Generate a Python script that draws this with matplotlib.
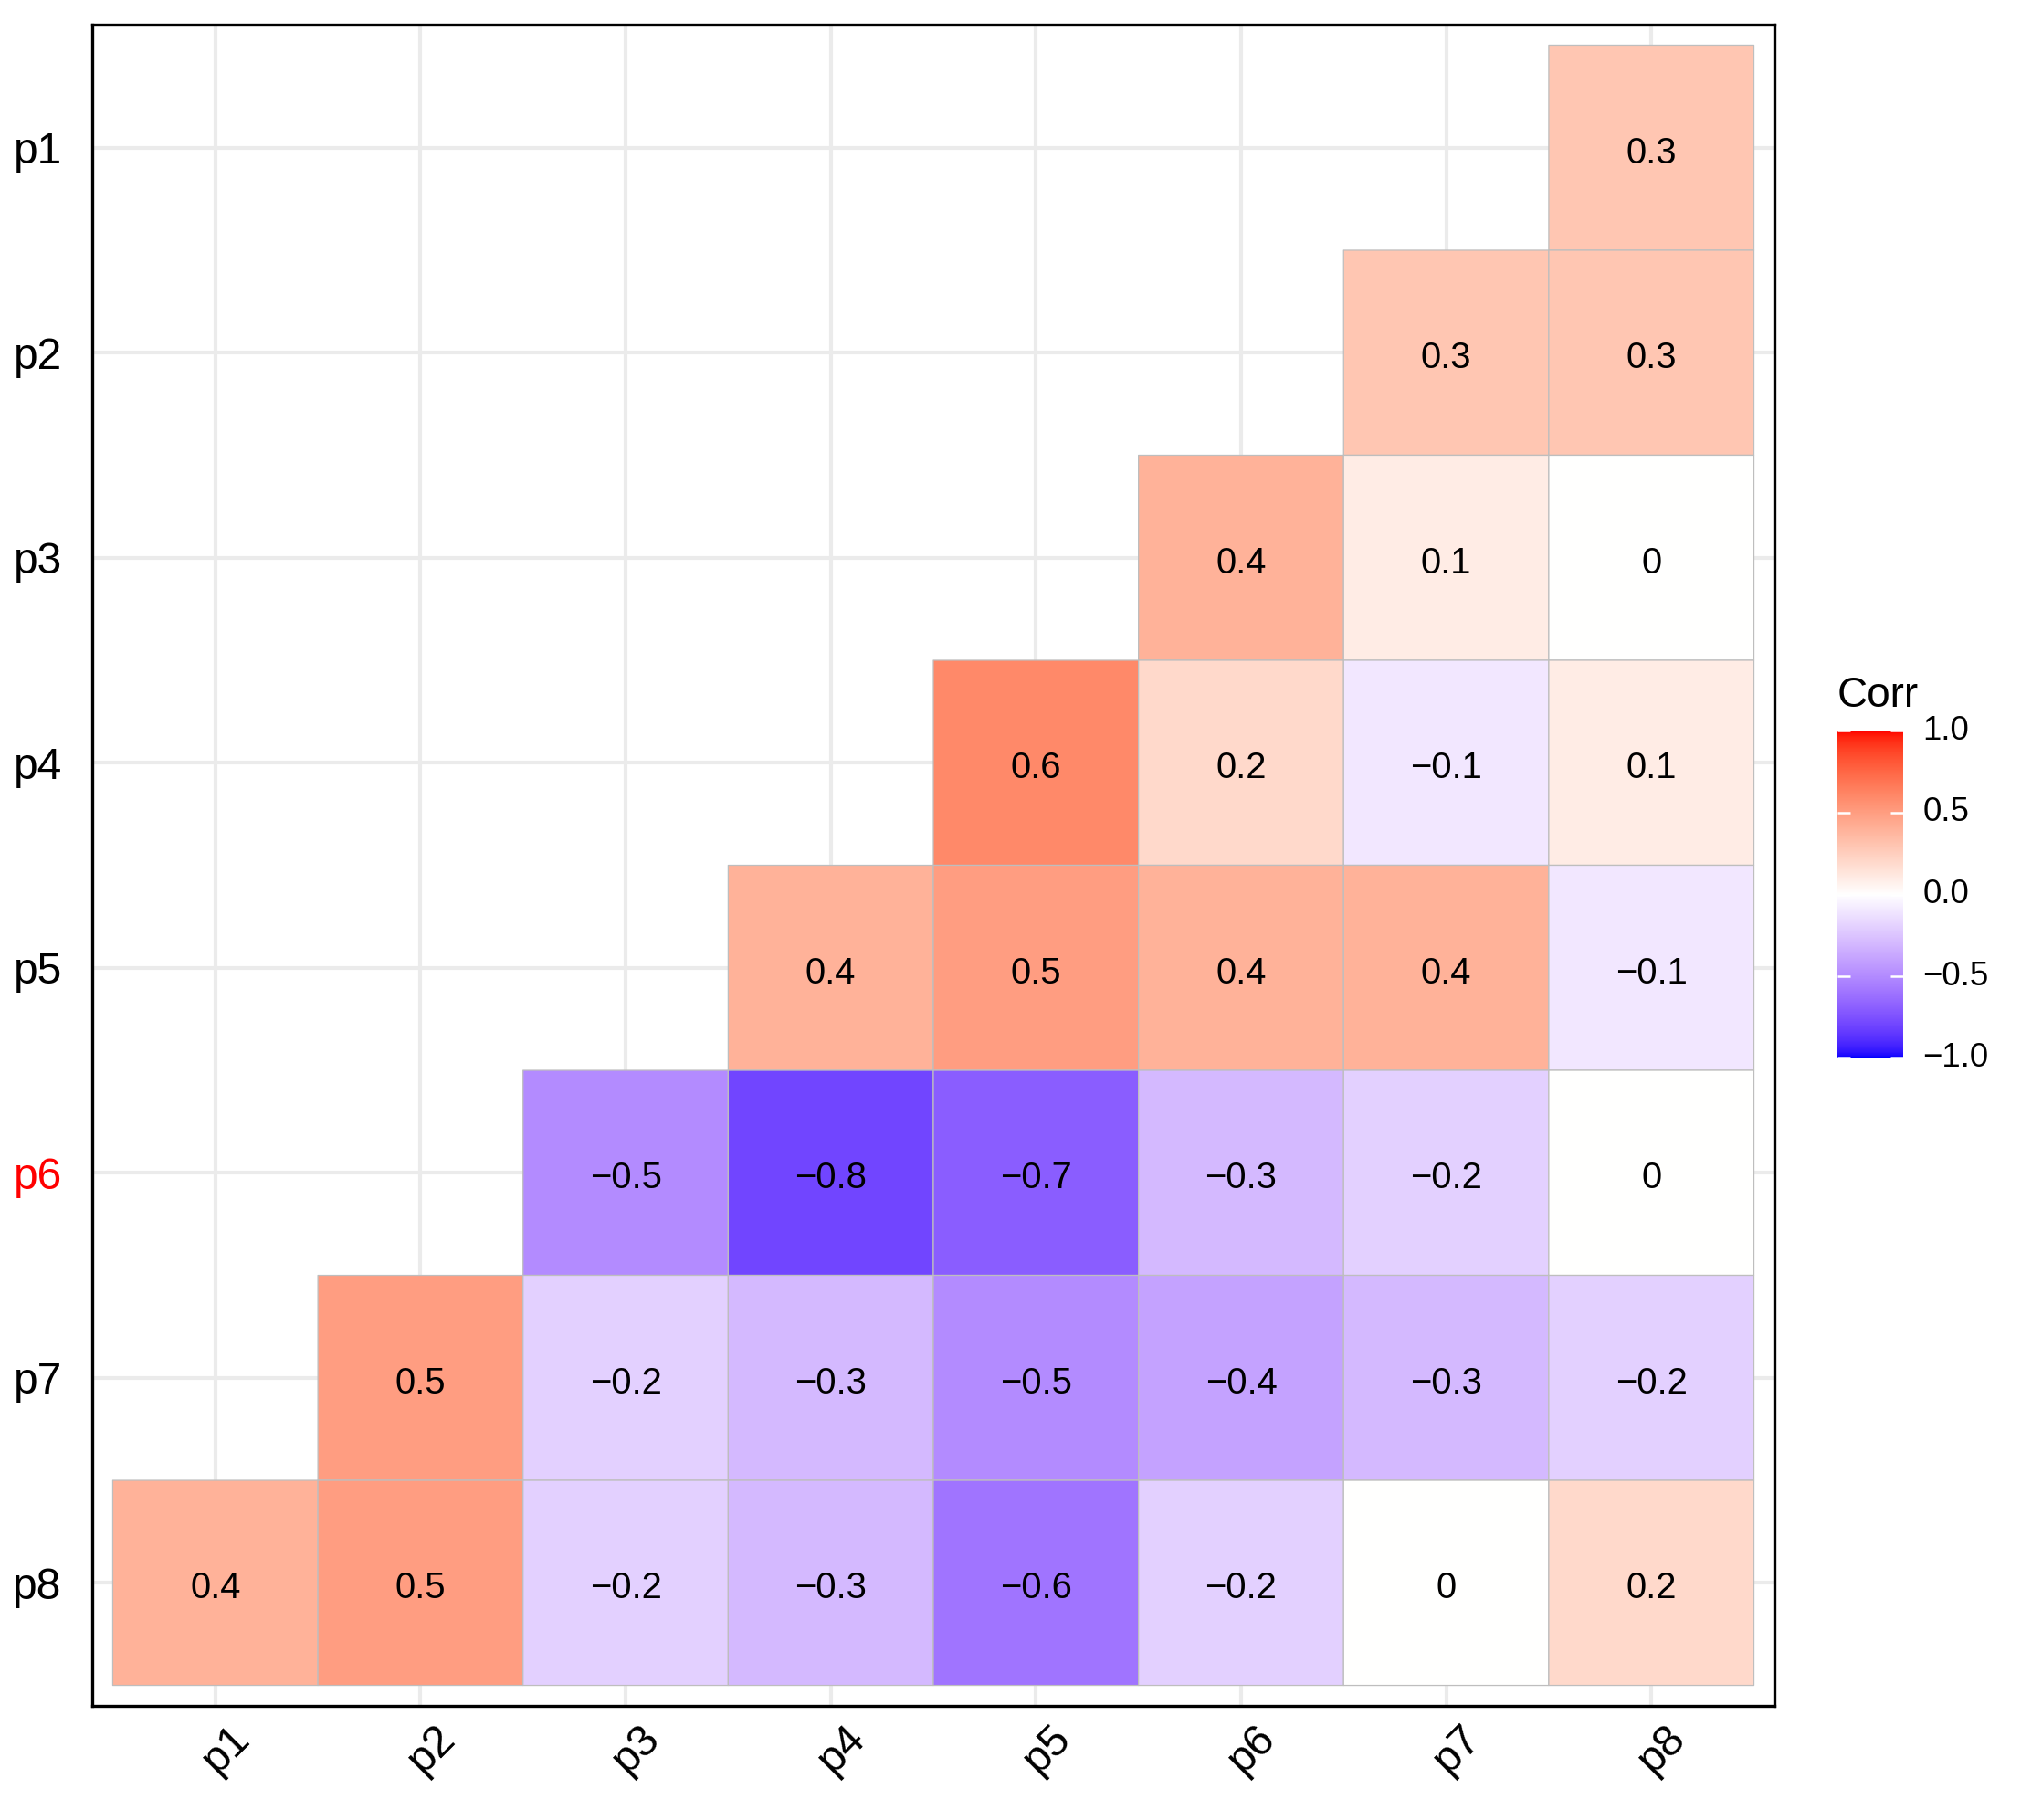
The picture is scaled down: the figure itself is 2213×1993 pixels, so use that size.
import numpy as np
import matplotlib
matplotlib.use("Agg")
import matplotlib.pyplot as plt
from matplotlib.colors import ListedColormap
from matplotlib.transforms import ScaledTranslation

plt.rcParams['font.family'] = ['Liberation Sans', 'DejaVu Sans']

# data: correlation matrix, rows p1..p8 (top to bottom), None = blank cell
labels = ['p1', 'p2', 'p3', 'p4', 'p5', 'p6', 'p7', 'p8']
row_p1 = [None, None, None, None, None, None, None, 0.3]
row_p2 = [None, None, None, None, None, None, 0.3, 0.3]
row_p3 = [None, None, None, None, None, 0.4, 0.1, 0.0]
row_p4 = [None, None, None, None, 0.6, 0.2, -0.1, 0.1]
row_p5 = [None, None, None, 0.4, 0.5, 0.4, 0.4, -0.1]
row_p6 = [None, None, -0.5, -0.8, -0.7, -0.3, -0.2, 0.0]
row_p7 = [None, 0.5, -0.2, -0.3, -0.5, -0.4, -0.3, -0.2]
row_p8 = [0.4, 0.5, -0.2, -0.3, -0.6, -0.2, 0.0, 0.2]
rows = [row_p1, row_p2, row_p3, row_p4, row_p5, row_p6, row_p7, row_p8]
legend_ticks = [-1.0, -0.5, 0.0, 0.5, 1.0]
red_label = 'p6'


# diverging blue-white-red gradient interpolated in CIELAB (like ggplot's gradient2)
def srgb_to_lab(rgb):
    c = np.asarray(rgb, dtype=float)
    c = np.where(c <= 0.04045, c / 12.92, ((c + 0.055) / 1.055) ** 2.4)
    m = np.array([[0.4124, 0.3576, 0.1805],
                  [0.2126, 0.7152, 0.0722],
                  [0.0193, 0.1192, 0.9505]])
    xyz = m @ c / np.array([0.95047, 1.0, 1.08883])
    f = np.where(xyz > 0.008856, np.cbrt(xyz), 7.787 * xyz + 16 / 116)
    return np.array([116 * f[1] - 16, 500 * (f[0] - f[1]), 200 * (f[1] - f[2])])


def lab_to_srgb(lab):
    L, a, b = lab
    fy = (L + 16) / 116
    fx = fy + a / 500
    fz = fy - b / 200
    f = np.array([fx, fy, fz])
    xyz = np.where(f ** 3 > 0.008856, f ** 3, (f - 16 / 116) / 7.787)
    xyz = xyz * np.array([0.95047, 1.0, 1.08883])
    m = np.array([[3.2406, -1.5372, -0.4986],
                  [-0.9689, 1.8758, 0.0415],
                  [0.0557, -0.2040, 1.0570]])
    c = m @ xyz
    c = np.where(c <= 0.0031308, 12.92 * c, 1.055 * np.clip(c, 0, None) ** (1 / 2.4) - 0.055)
    return np.clip(c, 0, 1)


lab_low = srgb_to_lab([0, 0, 1])
lab_mid = srgb_to_lab([1, 1, 1])
lab_high = srgb_to_lab([1, 0, 0])
cols = []
for t in np.linspace(0, 1, 512):
    if t < 0.5:
        lab = lab_low + (lab_mid - lab_low) * (t / 0.5)
    else:
        lab = lab_mid + (lab_high - lab_mid) * ((t - 0.5) / 0.5)
    cols.append(lab_to_srgb(lab))
cmap = ListedColormap(cols)

W, H = 2213, 1993
fig = plt.figure(figsize=(W / 300, H / 300), dpi=300)
ax = fig.add_axes([101 / W, 1 - 1868 / H, (1943 - 101) / W, (1868 - 27) / H])

n = len(labels)
mat = np.ma.masked_invalid(np.array([[np.nan if v is None else v for v in r] for r in rows]))
edges = np.arange(n + 1) + 0.5
ax.pcolor(edges, edges, mat, cmap=cmap, vmin=-1, vmax=1,
          edgecolors='#BEBEBE', linewidth=0.3, zorder=2)

# cell labels, nudged down a little to sit like ggplot's text
txt_trans = ax.transData + ScaledTranslation(0, -6 / 300, fig.dpi_scale_trans)
for i, r in enumerate(rows):
    for j, v in enumerate(r):
        if v is None:
            continue
        txt = '0' if abs(v) < 0.05 else f'{v:.1f}'.replace('-', '\u2212')
        ax.text(j + 1, i + 1, txt, ha='center', va='center', fontsize=9.6,
                color='black', zorder=3, transform=txt_trans)

ax.set_xlim(0.4, n + 0.6)
ax.set_ylim(n + 0.6, 0.4)
ax.set_xticks(range(1, n + 1))
ax.set_yticks(range(1, n + 1))
ax.set_xticklabels(labels, rotation=45, ha='center', va='top', fontsize=11.5)
ax.set_yticklabels(labels, fontsize=11.5)
ax.tick_params(length=0, pad=8, axis='y')
ax.tick_params(length=0, pad=3, axis='x')
# shift rotated x labels a bit to the right (after tick_params, which resets transforms)
for lab in ax.get_xticklabels():
    lab.set_transform(lab.get_transform() + ScaledTranslation(12 / 300, 0, fig.dpi_scale_trans))
for lab in ax.get_yticklabels():
    if lab.get_text() == red_label:
        lab.set_color('red')
ax.grid(True, color='#EBEBEB', linewidth=1.0, zorder=0)
ax.set_axisbelow(True)
for s in ax.spines.values():
    s.set_linewidth(0.8)
    s.set_color('black')

# colour bar legend
cax = fig.add_axes([2012 / W, 1 - 1159 / H, 72 / W, 359 / H])
grad = np.linspace(-1, 1, 300).reshape(-1, 1)
cax.imshow(grad, cmap=cmap, vmin=-1, vmax=1, aspect='auto', origin='lower',
           extent=[0, 1, -1, 1])
for t in legend_ticks:
    cax.plot([0, 0.2], [t, t], color='white', lw=0.6, solid_capstyle='butt')
    cax.plot([0.8, 1], [t, t], color='white', lw=0.6, solid_capstyle='butt')
    cax.text(1.3, t, f'{t:.1f}'.replace('-', '\u2212'), ha='left', va='center', fontsize=8.8)
cax.set_xlim(0, 1)
cax.set_ylim(-1, 1)
cax.set_axis_off()
cax.text(0, 1.09, 'Corr', ha='left', va='bottom', fontsize=11, transform=cax.transData)

fig.savefig('out.png', dpi=300, facecolor='white')
